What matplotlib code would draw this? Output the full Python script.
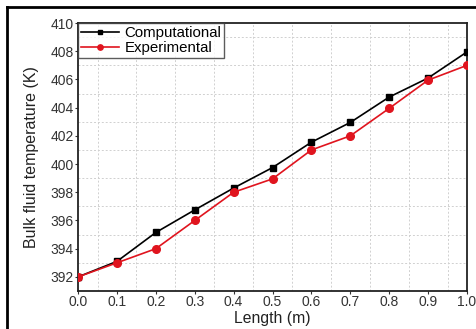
import matplotlib
matplotlib.use("Agg")
import matplotlib.pyplot as plt
from matplotlib.lines import Line2D
import numpy as np

plt.rcParams['font.family'] = ['Liberation Sans', 'DejaVu Sans']

length = [0.0, 0.1, 0.2, 0.3, 0.4, 0.5, 0.6, 0.7, 0.8, 0.9, 1.0]
computational = [392.0, 393.1, 395.15, 396.75, 398.3, 399.75, 401.55, 402.95, 404.75, 406.1, 407.95]
experimental = [392.0, 393.0, 394.0, 396.0, 398.0, 398.95, 401.0, 402.0, 403.95, 405.95, 407.0]

xticks = [0.0, 0.1, 0.2, 0.3, 0.4, 0.5, 0.6, 0.7, 0.8, 0.9, 1.0]
yticks = [392, 394, 396, 398, 400, 402, 404, 406, 408, 410]

fig = plt.figure(figsize=(4.76, 3.29), dpi=100)
ax = fig.add_axes([0.164, 0.1155, 0.817, 0.8145])

ax.plot(length, computational, color='black', marker='s', markersize=5, lw=1.2, label='Computational', zorder=3)
ax.plot(length, experimental, color='#e0141e', marker='o', markersize=5.5, lw=1.2, label='Experimental', zorder=3)

ax.set_xlim(0.0, 1.0)
ax.set_ylim(391, 410)
ax.set_xticks(xticks)
ax.set_xticklabels([f"{v:.1f}" for v in xticks])
ax.set_yticks(yticks)
ax.set_xticks(np.array(xticks[:-1]) + 0.05, minor=True)
ax.set_yticks(np.array(yticks[:-1]) + 1, minor=True)
ax.grid(True, which='minor', color='#d0d0d0', linestyle=(0, (2, 2)), linewidth=0.7)
ax.tick_params(which='major', direction='out', length=2, width=0.8, labelsize=10, pad=1, colors='#333333')
ax.tick_params(which='minor', length=0)
for s in ax.spines.values():
    s.set_linewidth(1.3)
    s.set_color('#222222')

ax.set_xlabel('Length (m)', fontsize=11.3, labelpad=1, color='#222222')
ax.set_ylabel('Bulk fluid temperature (K)', fontsize=11.5, labelpad=8, color='#222222')

leg = ax.legend(loc='upper left', fontsize=10.8, frameon=True, fancybox=False, borderaxespad=0,
                handlelength=2.5, handletextpad=0.4, borderpad=0.2, labelspacing=0.05, markerscale=0.7)
leg.get_frame().set_edgecolor('#333333')
leg.get_frame().set_linewidth(1.0)

# outer screenshot border
fig.add_artist(Line2D([7/476, 1], [1 - 7/329, 1 - 7/329], color='black', lw=2, transform=fig.transFigure))
fig.add_artist(Line2D([7/476, 7/476], [0, 1 - 7/329], color='black', lw=2, transform=fig.transFigure))

fig.savefig('out.png', dpi=100)
